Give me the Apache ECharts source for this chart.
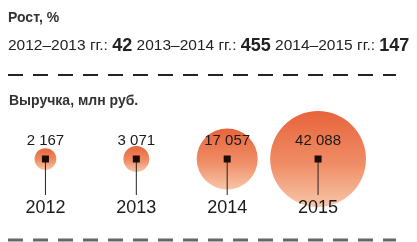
<!DOCTYPE html>
<html><head><meta charset="utf-8">
<script src="https://cdn.jsdelivr.net/npm/echarts@6/dist/echarts.min.js"></script>
<style>html,body{margin:0;padding:0;background:#fff}#c{width:417px;height:242px}</style>
</head><body><div id="c"></div>
<script>
const years = ['2012', '2013', '2014', '2015'];
const revenue = [2167, 3071, 17057, 42088];
const growthPeriods = ['2012–2013 гг.:', '2013–2014 гг.:', '2014–2015 гг.:'];
const growthValues = [42, 455, 147];
const growthTitle = 'Рост, %';
const revenueTitle = 'Выручка, млн руб.';

const FONT = '"Liberation Sans", Arial, sans-serif';
function fmt(v) { return String(v).replace(/\B(?=(\d{3})+(?!\d))/g, ' '); }

const richText = growthPeriods.map((p, i) => '{p|' + p + ' }{v|' + growthValues[i] + '}').join('{p| }');

const chart = echarts.init(document.getElementById('c'), null, { renderer: 'canvas' });
const bubbleColor = new echarts.graphic.LinearGradient(0, 0, 0, 1, [
  { offset: 0, color: '#e8643b' },
  { offset: 0.55, color: '#ef8d66' },
  { offset: 1, color: '#f8c6a8' }
]);
chart.setOption({
  animation: false,
  graphic: [
    { type: 'text', left: 8, top: 11, style: { text: growthTitle, font: 'bold 14px ' + FONT, fill: '#333' } },
    { type: 'text', left: 8, top: 37, style: { text: richText, rich: {
      p: { fontSize: 15.5, fontFamily: FONT, fill: '#222' },
      v: { fontSize: 18, fontWeight: 'bold', fontFamily: FONT, fill: '#222' }
    } } },
    { type: 'line', shape: { x1: 8, y1: 75, x2: 396, y2: 75 }, style: { stroke: '#222', lineWidth: 2, lineDash: [15, 10] } },
    { type: 'text', left: 9, top: 94, style: { text: revenueTitle, font: 'bold 14px ' + FONT, fill: '#333' } },
    { type: 'line', shape: { x1: 8, y1: 240, x2: 396, y2: 240 }, style: { stroke: '#666', lineWidth: 3, lineDash: [15, 10] } }
  ],
  grid: { left: 0, right: 53.5, top: 122, bottom: 46 },
  xAxis: {
    type: 'category', data: years, z: 10,
    axisLine: { show: false }, axisTick: { show: false }, splitLine: { show: false },
    axisLabel: { margin: 3, fontSize: 18, color: '#1a1a1a', fontFamily: FONT }
  },
  yAxis: { type: 'value', min: 0, max: 1, show: false },
  series: [
    {
      type: 'scatter', z: 2,
      data: revenue.map((v, i) => [years[i], 0.5, v]),
      symbolSize: d => 0.467 * Math.sqrt(d[2]),
      itemStyle: { color: bubbleColor, opacity: 1 },
      emphasis: { disabled: true }
    },
    {
      type: 'scatter', z: 3,
      data: revenue.map((v, i) => [years[i], 0.5, v]),
      symbol: 'rect', symbolSize: [1, 36], symbolOffset: [0, 18],
      itemStyle: { color: '#222', opacity: 1 },
      emphasis: { disabled: true }
    },
    {
      type: 'scatter', z: 4,
      data: revenue.map((v, i) => [years[i], 0.5, v]),
      symbol: 'rect', symbolSize: 7,
      itemStyle: { color: '#1c0c06', opacity: 1 },
      label: {
        show: true, position: 'inside', offset: [0, -18],
        formatter: p => fmt(p.data[2]),
        fontSize: 15, color: '#1a1a1a', fontFamily: FONT
      },
      emphasis: { disabled: true }
    }
  ]
});
</script>
</body></html>
